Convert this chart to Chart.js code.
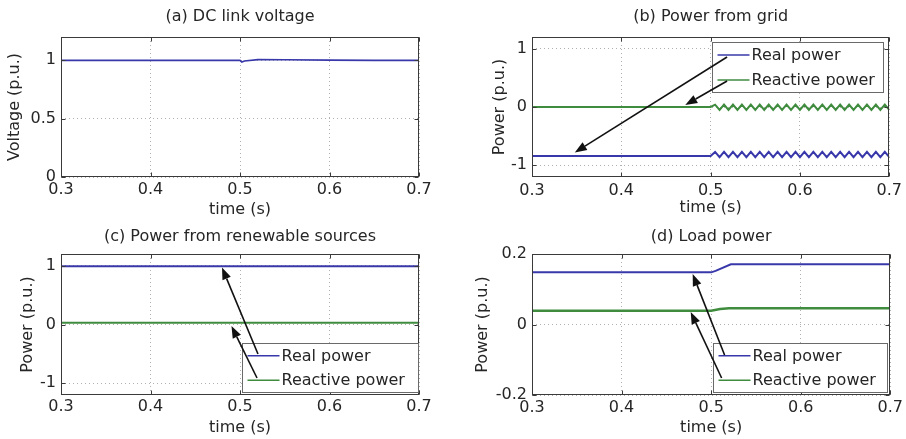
<!DOCTYPE html>
<html><head><meta charset="utf-8">
<script src="https://cdn.jsdelivr.net/npm/chart.js@4.4.0/dist/chart.umd.min.js"></script>
<style>
html,body{margin:0;padding:0;background:#fff;}
#wrap{position:relative;width:906px;height:439px;overflow:hidden;background:#fff;}
canvas{position:absolute;}
</style></head><body>
<div id="wrap">
<canvas id="ca" width="453" height="220" style="left:0px;top:0px"></canvas>
<canvas id="cb" width="453" height="220" style="left:453px;top:0px"></canvas>
<canvas id="cc" width="453" height="219" style="left:0px;top:220px"></canvas>
<canvas id="cd" width="453" height="219" style="left:453px;top:220px"></canvas>
</div>
<script>
// ---------- data ----------
const timeTicks = [0.3, 0.4, 0.5, 0.6, 0.7];

// (a) DC link voltage
const timeA = [0.3, 0.5, 0.502, 0.505, 0.52, 0.55, 0.6, 0.65, 0.7];
const voltageA = [1.0, 1.0, 0.985, 0.995, 1.006, 1.005, 1.002, 1.0, 1.0];
const yTicksA = [0, 0.5, 1];

// (b) Power from grid
const timeB = [0.3, 0.5, 0.505, 0.51, 0.515, 0.52, 0.525, 0.53, 0.535, 0.54, 0.545, 0.55,
  0.555, 0.56, 0.565, 0.57, 0.575, 0.58, 0.585, 0.59, 0.595, 0.6, 0.605, 0.61, 0.615, 0.62,
  0.625, 0.63, 0.635, 0.64, 0.645, 0.65, 0.655, 0.66, 0.665, 0.67, 0.675, 0.68, 0.685, 0.69, 0.695, 0.7];
const realB = [-0.84, -0.84, -0.77, -0.86, -0.77, -0.86, -0.77, -0.86, -0.77, -0.86, -0.77, -0.86,
  -0.77, -0.86, -0.77, -0.86, -0.77, -0.86, -0.77, -0.86, -0.77, -0.86, -0.77, -0.86, -0.77, -0.86,
  -0.77, -0.86, -0.77, -0.86, -0.77, -0.86, -0.77, -0.86, -0.77, -0.86, -0.77, -0.86, -0.77, -0.86, -0.77, -0.86];
const reactiveB = [0, 0, 0.04, -0.05, 0.04, -0.05, 0.04, -0.05, 0.04, -0.05, 0.04, -0.05,
  0.04, -0.05, 0.04, -0.05, 0.04, -0.05, 0.04, -0.05, 0.04, -0.05, 0.04, -0.05, 0.04, -0.05,
  0.04, -0.05, 0.04, -0.05, 0.04, -0.05, 0.04, -0.05, 0.04, -0.05, 0.04, -0.05, 0.04, -0.05, 0.04, -0.05];
const yTicksB = [-1, 0, 1];

// (c) Power from renewable sources
const timeC = [0.3, 0.7];
const realC = [0.99, 0.99];
const reactiveC = [0.03, 0.03];
const yTicksC = [-1, 0, 1];

// (d) Load power
const timeDReal = [0.3, 0.5, 0.505, 0.522, 0.7];
const realD = [0.148, 0.148, 0.152, 0.171, 0.171];
const timeDReactive = [0.3, 0.5, 0.51, 0.52, 0.7];
const reactiveD = [0.039, 0.039, 0.044, 0.046, 0.046];
const yTicksD = [-0.2, 0, 0.2];

const seriesNames = ['Real power', 'Reactive power'];

// ---------- styling ----------
const FONT = '"DejaVu Sans", "Liberation Sans", sans-serif';
const INK = '#262626';
const AXIS = '#3a3a3a';
const GRID = 'rgba(60,60,60,0.4)';
const BLUE = '#3838aa';
const GREEN = '#3f8c3f';

const decorSpecs = {};

function drawArrow(ctx, x1, y1, x2, y2) {
  const ang = Math.atan2(y2 - y1, x2 - x1);
  const hl = 12, hw = 4.5;
  const bx = x2 - hl * Math.cos(ang), by = y2 - hl * Math.sin(ang);
  ctx.strokeStyle = '#111'; ctx.fillStyle = '#111'; ctx.lineWidth = 1.6;
  ctx.beginPath(); ctx.moveTo(x1, y1); ctx.lineTo(bx, by); ctx.stroke();
  ctx.beginPath();
  ctx.moveTo(x2, y2);
  ctx.lineTo(bx + hw * Math.sin(ang), by - hw * Math.cos(ang));
  ctx.lineTo(bx - hw * Math.sin(ang), by + hw * Math.cos(ang));
  ctx.closePath(); ctx.fill();
}

const decorPlugin = {
  id: 'decor',
  afterDraw(chart) {
    const spec = decorSpecs[chart.canvas.id] || {};
    const {ctx, chartArea: a, scales: {x, y}} = chart;
    ctx.save();
    const L = Math.round(a.left) + 0.5, T = Math.round(a.top) + 0.5;
    const R = Math.round(a.right) - 0.5, B = Math.round(a.bottom) - 0.5;
    ctx.strokeStyle = AXIS; ctx.lineWidth = 1; ctx.setLineDash([]);
    ctx.strokeRect(L, T, R - L, B - T);
    const tl = 4;
    ctx.beginPath();
    x.ticks.forEach(t => {
      const px = Math.round(x.getPixelForValue(t.value)) + 0.5;
      ctx.moveTo(px, B); ctx.lineTo(px, B - tl);
      ctx.moveTo(px, T); ctx.lineTo(px, T + tl);
    });
    y.ticks.forEach(t => {
      const py = Math.round(y.getPixelForValue(t.value)) + 0.5;
      ctx.moveTo(L, py); ctx.lineTo(L + tl, py);
      ctx.moveTo(R, py); ctx.lineTo(R - tl, py);
    });
    ctx.stroke();
    if (spec.legend) {
      const lg = spec.legend;
      const x0 = Math.round(x.getPixelForValue(lg.box[0])) + 0.5;
      const x1 = Math.round(x.getPixelForValue(lg.box[1])) + 0.5;
      const y0 = Math.round(y.getPixelForValue(lg.box[2])) + 0.5;
      const y1 = Math.round(y.getPixelForValue(lg.box[3])) + 0.5;
      ctx.fillStyle = '#fff';
      ctx.fillRect(x0, y0, x1 - x0, y1 - y0);
      ctx.strokeStyle = '#6a6a6a'; ctx.lineWidth = 1;
      ctx.strokeRect(x0, y0, x1 - x0, y1 - y0);
      const n = lg.items.length;
      ctx.font = '16px ' + FONT;
      ctx.textBaseline = 'middle'; ctx.textAlign = 'left';
      lg.items.forEach((it, i) => {
        const ry = y0 + (y1 - y0) * (i + 0.5) / n;
        ctx.strokeStyle = it.color; ctx.lineWidth = 1.5;
        ctx.beginPath(); ctx.moveTo(x0 + 5, ry); ctx.lineTo(x0 + 37, ry); ctx.stroke();
        ctx.fillStyle = INK;
        ctx.fillText(it.label, x0 + 39, ry + 1);
      });
    }
    (spec.arrows || []).forEach(ar => {
      drawArrow(ctx, x.getPixelForValue(ar.from[0]), y.getPixelForValue(ar.from[1]),
                     x.getPixelForValue(ar.to[0]), y.getPixelForValue(ar.to[1]));
    });
    ctx.restore();
  }
};

function panel(id, o) {
  decorSpecs[id] = {legend: o.legend, arrows: o.arrows};
  const font = {family: FONT, size: 16, weight: 'normal'};
  return new Chart(document.getElementById(id), {
    type: 'line',
    data: {
      datasets: o.series.map(s => ({
        label: s.label,
        data: s.x.map((xv, i) => ({x: xv, y: s.y[i]})),
        borderColor: s.color, backgroundColor: s.color,
        borderWidth: s.width, pointRadius: 0, tension: 0, fill: false
      }))
    },
    options: {
      responsive: false, animation: false, devicePixelRatio: 1,
      events: [],
      layout: {padding: {left: 0, right: o.padRight, top: 0, bottom: 0}},
      plugins: {
        legend: {display: false},
        tooltip: {enabled: false},
        title: {display: true, text: o.title, fullSize: false, color: INK, font: font,
                padding: {top: o.titlePad[0], bottom: o.titlePad[1]}}
      },
      scales: {
        x: {
          type: 'linear', min: 0.3, max: 0.7,
          afterFit: s => { s.height = o.xAxisH; },
          afterBuildTicks: s => { s.ticks = timeTicks.map(v => ({value: v})); },
          ticks: {callback: v => String(v), font: font, color: INK, padding: o.xTickPad,
                  maxRotation: 0, autoSkip: false},
          grid: {color: GRID, drawTicks: false, lineWidth: 1},
          border: {display: false, dash: [1, 3]},
          title: {display: true, text: 'time (s)', font: font, color: INK,
                  padding: {top: 0, bottom: o.xTitlePad}}
        },
        y: {
          type: 'linear', min: o.yMin, max: o.yMax,
          afterFit: s => { s.width = o.yAxisW; },
          afterBuildTicks: s => { s.ticks = o.yTicks.map(v => ({value: v})); },
          ticks: {callback: v => String(v), font: font, color: INK, padding: 5, autoSkip: false},
          grid: {color: GRID, drawTicks: false, lineWidth: 1},
          border: {display: false, dash: [1, 3]},
          title: {display: true, text: o.yLabel, font: font, color: INK,
                  padding: {top: o.yTitlePad, bottom: 0}}
        }
      }
    },
    plugins: [decorPlugin]
  });
}

panel('ca', {
  title: '(a) DC link voltage', yLabel: 'Voltage (p.u.)',
  yMin: 0, yMax: 1.2, yTicks: yTicksA,
  padRight: 34, yAxisW: 61, xAxisH: 43, titlePad: [7.4, 10.4], yTitlePad: 5.4, xTickPad: 3, xTitlePad: 0.4,
  series: [{label: 'Voltage', x: timeA, y: voltageA, color: BLUE, width: 1.6}]
});

panel('cb', {
  title: '(b) Power from grid', yLabel: 'Power (p.u.)',
  yMin: -1.2, yMax: 1.2, yTicks: yTicksB,
  padRight: 15, yAxisW: 79, xAxisH: 43, titlePad: [7.4, 10.4], yTitlePad: 37.4, xTickPad: 4, xTitlePad: 2.4,
  series: [
    {label: seriesNames[0], x: timeB, y: realB, color: BLUE, width: 2},
    {label: seriesNames[1], x: timeB, y: reactiveB, color: GREEN, width: 2}
  ],
  legend: {box: [0.5017, 0.6933, 1.114, 0.257],
           items: [{label: seriesNames[0], color: BLUE}, {label: seriesNames[1], color: GREEN}]},
  arrows: [{from: [0.5184, 0.857], to: [0.3479, -0.78]},
           {from: [0.5184, 0.446], to: [0.4716, 0.034]}]
});

panel('cc', {
  title: '(c) Power from renewable sources', yLabel: 'Power (p.u.)',
  yMin: -1.2, yMax: 1.2, yTicks: yTicksC,
  padRight: 34, yAxisW: 61, xAxisH: 44, titlePad: [7.4, 7.4], yTitlePad: 18.4, xTickPad: 2, xTitlePad: 1.4,
  series: [
    {label: seriesNames[0], x: timeC, y: realC, color: BLUE, width: 2},
    {label: seriesNames[1], x: timeC, y: reactiveC, color: GREEN, width: 2}
  ],
  legend: {box: [0.5022, 0.6989, -0.315, -1.149],
           items: [{label: seriesNames[0], color: BLUE}, {label: seriesNames[1], color: GREEN}]},
  arrows: [{from: [0.5201, -0.502], to: [0.4799, 0.97]},
           {from: [0.519, -0.911], to: [0.4905, -0.026]}]
});

panel('cd', {
  title: '(d) Load power', yLabel: 'Power (p.u.)',
  yMin: -0.2, yMax: 0.2, yTicks: yTicksD,
  padRight: 15, yAxisW: 79, xAxisH: 44, titlePad: [7.4, 7.4], yTitlePad: 20.4, xTickPad: 3, xTitlePad: 1.4,
  series: [
    {label: seriesNames[0], x: timeDReal, y: realD, color: BLUE, width: 2},
    {label: seriesNames[1], x: timeDReactive, y: reactiveD, color: GREEN, width: 2.6}
  ],
  legend: {box: [0.5017, 0.6967, -0.0525, -0.1915],
           items: [{label: seriesNames[0], color: BLUE}, {label: seriesNames[1], color: GREEN}]},
  arrows: [{from: [0.515, -0.0865], to: [0.4794, 0.1433]},
           {from: [0.5117, -0.1518], to: [0.4772, 0.0355]}]
});
</script>
</body></html>
